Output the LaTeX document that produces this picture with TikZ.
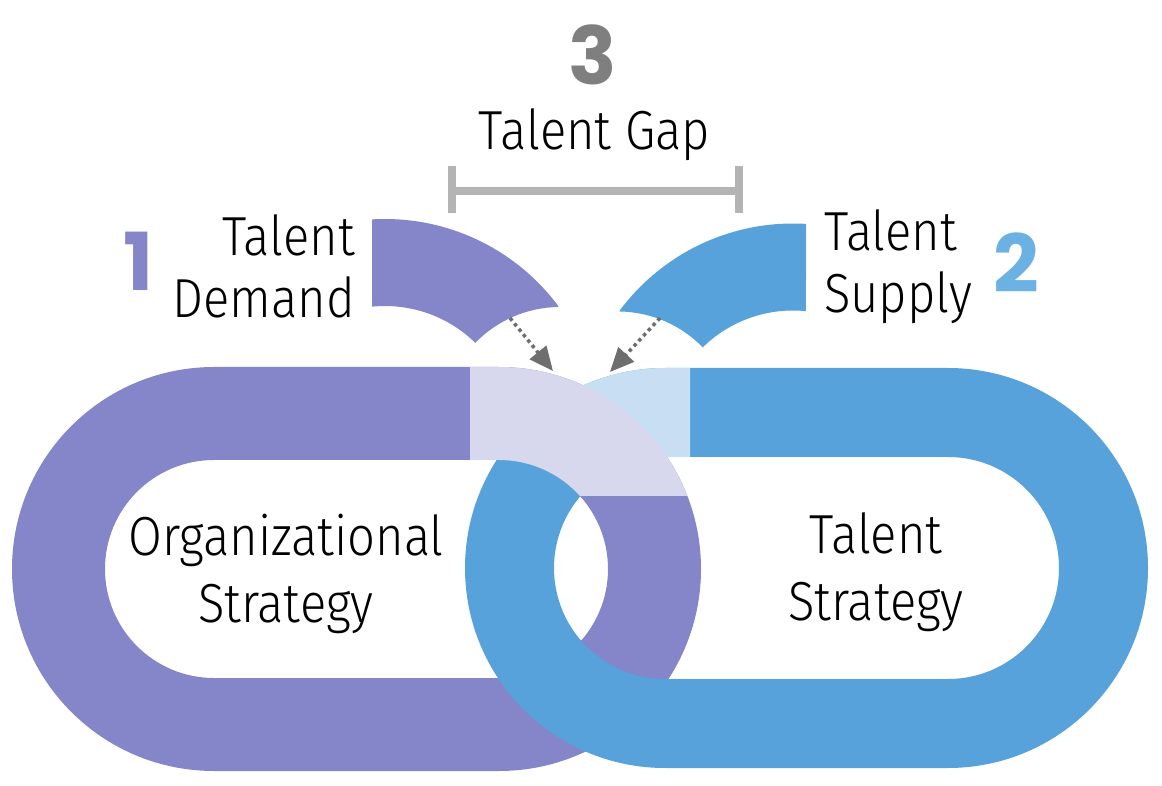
\documentclass[tikz,border=0pt]{standalone}
\usepackage{fontspec}
\IfFontExistsTF{Fira Sans Light}{\setmainfont{Fira Sans Light}[FakeStretch=0.89]}{\setmainfont{Fira Sans}[FakeStretch=0.89]}
\newfontfamily\numfont{Poppins}
\usetikzlibrary{arrows.meta}
\definecolor{orgpurple}{HTML}{8585C9}
\definecolor{orglight}{HTML}{D7D7EE}
\definecolor{talblue}{HTML}{57A2DB}
\definecolor{tallight}{HTML}{C8DEF2}
\definecolor{gapgray}{HTML}{B4B4B4}
\definecolor{arrgray}{HTML}{6E6E6E}
\definecolor{numgray}{HTML}{7F7F7F}
\definecolor{numblue}{HTML}{6BB1E4}
\def\linkband[#1](#2,#3,#4)(#5:#6){\fill[#1,even odd rule] (#2,#4-#5) -- (#3,#4-#5) arc[start angle=-90,end angle=90,radius=#5] -- (#2,#4+#5) arc[start angle=90,end angle=270,radius=#5] -- cycle (#2,#4-#6) -- (#3,#4-#6) arc[start angle=-90,end angle=90,radius=#6] -- (#2,#4+#6) arc[start angle=90,end angle=270,radius=#6] -- cycle;}

\begin{document}
\begin{tikzpicture}[x=1pt,y=1pt,
	caption/.style={font=\fontsize{55}{62}\selectfont, inner sep=0pt},
	bignum/.style={font=\numfont\bfseries\fontsize{80}{80}\selectfont, inner sep=0pt},
	feed/.style={arrgray, line width=3.5pt, dash pattern=on 3.5pt off 3.5pt, -{Triangle[length=24pt,width=21pt]}},
	gapbar/.style={gapgray, line width=8pt}]
		%%%%% START %%%%%
		\useasboundingbox (0,0) rectangle (1162,785);
		
		% the two links
		\linkband[orgpurple](214,499,216)(202:109)
		\linkband[talblue](665,948,217)(200:111)
		
		\begin{scope}
			\clip (400,325) rectangle (690,430);
			\linkband[tallight](665,948,217)(200:111)
		\end{scope}
		\begin{scope}
			\clip (470,289) rectangle (720,430);
			\linkband[orglight](214,499,216)(202:109)
		\end{scope}
		
		% demand and supply pieces
		\coordinate (dc) at (385,350);
		\coordinate (dcut) at (560,360);
		\fill[orgpurple] ([shift={(93.45:216)}]dc) arc[start angle=93.45,end angle=36.6,radius=216] -- ([shift={(90.8:118)}]dcut) arc[start angle=90.8,end angle=136,radius=118] -- ([shift={(45.6:129)}]dc) arc[start angle=45.6,end angle=95.78,radius=129] -- cycle;
		
		\coordinate (sc) at (793,345.5);
		\coordinate (scut) at (618,355.5);
		\fill[talblue] ([shift={(86.55:216)}]sc) arc[start angle=86.55,end angle=143.4,radius=216] -- ([shift={(89.2:118)}]scut) arc[start angle=89.2,end angle=44,radius=118] -- ([shift={(134.4:129)}]sc) arc[start angle=134.4,end angle=84.22,radius=129] -- cycle;
		
		% gap bracket
		\coordinate (gapL) at (452,594);
		\coordinate (gapR) at (739,594);
		\draw[gapbar] (gapL) -- (gapR);
		\draw[gapbar] ([yshift=-22]gapL) -- ([yshift=25]gapL);
		\draw[gapbar] ([yshift=-22]gapR) -- ([yshift=25]gapR);
		
		% arrows into the gap
		\coordinate (demandfoot) at (510,467);
		\coordinate (supplyfoot) at (660,467);
		\coordinate (gaptipL) at (553,414);
		\coordinate (gaptipR) at (610,413);
		\draw[feed] (demandfoot) -- (gaptipL);
		\draw[feed] (supplyfoot) -- (gaptipR);
		
		% texts (base = last line)
		\node[bignum, numgray] (three) at (593,730) {3};
		\node[caption, anchor=base] (gap) at (594.5,635) {Talent Gap};
		\node[bignum, orgpurple] (one) at (139,524) {1};
		\node[bignum, numblue] (two) at (1016,522) {2};
		\node[caption, align=right, anchor=base east] (demand) at (355,467) {Talent\\Demand};
		\node[caption, align=left, anchor=base west] (supply) at (824,472) {Talent\\Supply};
		\node[caption, align=center, anchor=base, font=\fontsize{55}{67}\selectfont] (org) at (286,163) {Organizational\\Strategy};
		\node[caption, align=center, anchor=base, font=\fontsize{55}{67}\selectfont] (strat) at (876,165) {Talent\\Strategy};
		%%%%% END %%%%%
\end{tikzpicture}
\end{document}
